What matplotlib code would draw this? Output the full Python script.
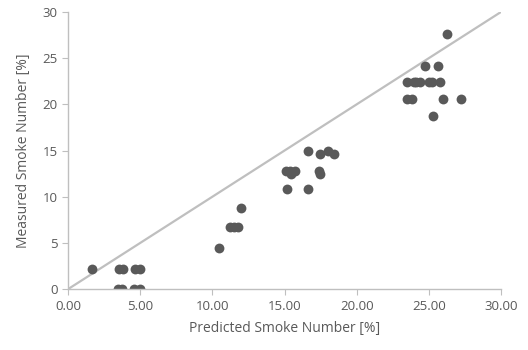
import matplotlib
matplotlib.use("Agg")
import matplotlib.pyplot as plt
import numpy as np

predicted = [1.65, 3.55, 3.8, 4.65, 4.95, 3.45, 3.75, 4.6, 4.95,
             10.45, 11.25, 11.5, 11.75, 12.0,
             15.2, 16.6, 15.1, 15.4, 15.7, 15.45, 17.4, 17.45,
             16.6, 17.45, 18.0, 18.4,
             23.5, 23.95, 24.1, 24.4, 25.0, 25.2, 25.75,
             23.5, 23.85, 26.0, 27.2,
             24.75, 25.6, 26.25, 25.3]
measured = [2.2, 2.2, 2.2, 2.2, 2.2, 0, 0, 0, 0,
            4.4, 6.7, 6.7, 6.7, 8.8,
            10.8, 10.8, 12.8, 12.8, 12.8, 12.5, 12.8, 12.5,
            15.0, 14.6, 15.0, 14.6,
            22.4, 22.4, 22.4, 22.4, 22.4, 22.4, 22.4,
            20.6, 20.6, 20.6, 20.6,
            24.1, 24.1, 27.6, 18.7]
line_x = [0, 30]
line_y = [0, 30]
xticks = [0, 5, 10, 15, 20, 25, 30]
yticks = [0, 5, 10, 15, 20, 25, 30]

plt.rcParams['font.family'] = ['Open Sans', 'DejaVu Sans']
txt = '#595959'
fig = plt.figure(figsize=(5.28, 3.5), dpi=100)
ax = fig.add_axes([0.129, 0.174, 0.82, 0.792])
ax.plot(line_x, line_y, color='#BFBFBF', lw=1.6, zorder=1)
ax.scatter(predicted, measured, s=50, color='#595959', zorder=2, linewidths=0)
ax.set_xlim(0, 30)
ax.set_ylim(0, 30)
ax.set_xticks(xticks)
ax.set_xticklabels([f"{v:.2f}" for v in xticks])
ax.set_yticks(yticks)
ax.set_yticklabels([str(v) for v in yticks])
for s in ['top', 'right']:
    ax.spines[s].set_visible(False)
for s in ['left', 'bottom']:
    ax.spines[s].set_color('#BFBFBF')
    ax.spines[s].set_linewidth(1)
ax.tick_params(colors='#BFBFBF', labelcolor=txt, labelsize=9.5, length=4, direction='out')
ax.set_xlabel('Predicted Smoke Number [%]', color=txt, fontsize=10, labelpad=6)
ax.set_ylabel('Measured Smoke Number [%]', color=txt, fontsize=10, labelpad=8)
for sp in ax.spines.values():
    sp.set_clip_on(False)
fig.savefig('out.png', dpi=100)
